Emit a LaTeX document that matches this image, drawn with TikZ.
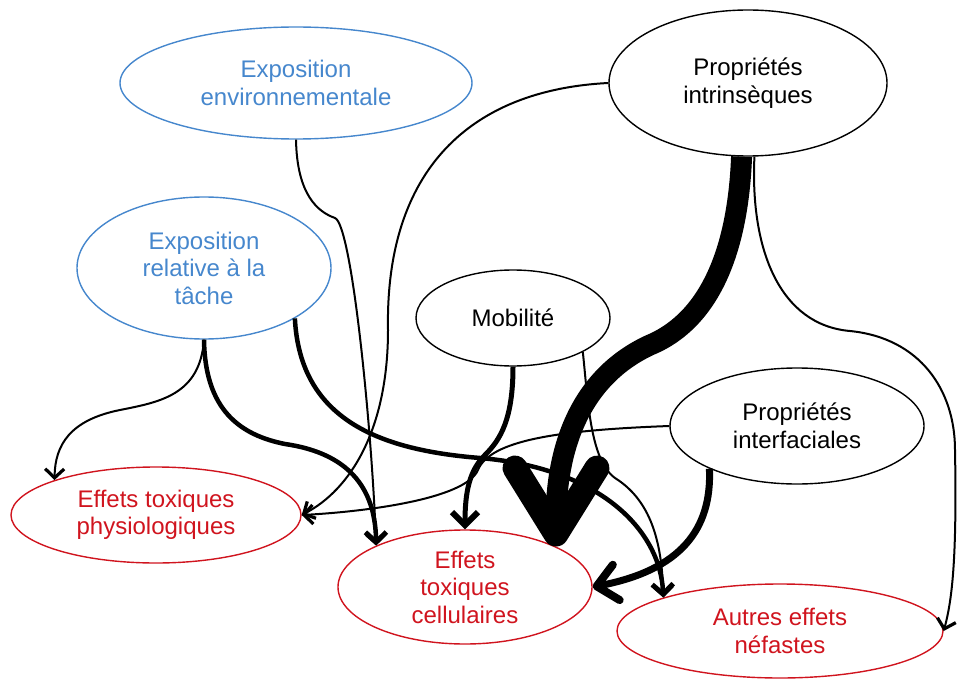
\documentclass[tikz,border=0pt]{standalone}
\usepackage{fontspec}
\setmainfont{Liberation Sans}
\usetikzlibrary{arrows.meta,shapes.geometric}

\definecolor{expblue}{RGB}{70,135,205}
\definecolor{effred}{RGB}{208,20,30}

\tikzset{
  bubble/.style={ellipse, draw, line width=1.4pt, inner sep=0pt, align=center,
    font=\fontsize{24}{27.5}\selectfont},
  expo/.style={bubble, draw=expblue, text=expblue},
  prop/.style={bubble, draw=black, text=black},
  effet/.style={bubble, draw=effred, text=effred},
  thinlink/.style={line width=2pt, -{Straight Barb[length=9pt,width=19pt,line width=3.2pt]}},
  thicklink/.style={line width=4.5pt, -{Straight Barb[length=10pt,width=21pt,line width=5pt]}},
}

\begin{document}
\begin{tikzpicture}[x=1pt,y=-1pt]

    \useasboundingbox (0,0) rectangle (958,679);

    % sources
    \node[expo, minimum width=352, minimum height=112] (expenv) at (296,83) {Exposition\\environnementale};
    \node[expo, minimum width=254, minimum height=142] (exprel) at (204,268) {Exposition\\relative à la\\tâche};
    \node[prop, minimum width=278, minimum height=146] (propint) at (748,83) {Propriétés\\intrinsèques};
    \node[prop, minimum width=194, minimum height=96] (mobil) at (513,318) {Mobilité};
    \node[prop, minimum width=254, minimum height=116] (propinter) at (797,426) {Propriétés\\interfaciales};

    % effects
    \node[effet, minimum width=290, minimum height=96] (physio) at (156,515) {Effets toxiques\\physiologiques};
    \node[effet, minimum width=254, minimum height=114] (cell) at (465,587) {Effets\\toxiques\\cellulaires};
    \node[effet, minimum width=326, minimum height=94] (autres) at (780,631) {Autres effets\\néfastes};

    % links
    \draw[thinlink] (expenv.south) .. controls (297,195) and (318,212) .. (335,218)
        .. controls (352,225) and (372,430) .. (cell.155);
    \draw[thicklink] (exprel.south) .. controls (205,410) and (240,435) .. (285,444)
        .. controls (340,452) and (375,480) .. (cell.155);
    \draw[thinlink] (exprel.south) .. controls (200,395) and (160,402) .. (120,410)
        .. controls (70,420) and (55,445) .. (physio.161);
    \draw[thicklink] (exprel.-29) .. controls (300,420) and (380,450) .. (480,458)
        .. controls (600,468) and (660,530) .. (autres.164);

    \draw[thinlink] (mobil.-26) .. controls (588,400) and (590,460) .. (615,478)
        .. controls (650,500) and (662,540) .. (autres.164);
    \draw[line width=5pt, -{Straight Barb[length=13pt,width=26pt,line width=6pt]}]
        (mobil.south) .. controls (513,420) and (500,440) .. (485,455)
        .. controls (470,470) and (465,490) .. (cell.north);

    \draw[thinlink] (propint.west) .. controls (470,90) and (385,170) .. (388,330)
        .. controls (388,430) and (350,490) .. (physio.east);
    \draw[thinlink] (propint.-85) .. controls (750,250) and (780,325) .. (850,331)
        .. controls (920,338) and (955,390) .. (955,450)
        .. controls (957,560) and (952,600) .. (autres.east);
    \draw[line width=21pt, -{Straight Barb[length=66pt,width=82pt,line width=25pt,round]}]
        (propint.265) .. controls (738,250) and (710,320) .. (650,345)
        .. controls (585,375) and (556,440) .. (cell.24);

    \draw[thinlink] (propinter.west) .. controls (560,430) and (490,440) .. (478,470)
        .. controls (465,500) and (360,512) .. (physio.east);
    \draw[line width=7pt, -{Straight Barb[length=20pt,width=36pt,line width=8pt,round]}]
        (propinter.206) .. controls (712,530) and (680,570) .. (cell.east);

\end{tikzpicture}
\end{document}
